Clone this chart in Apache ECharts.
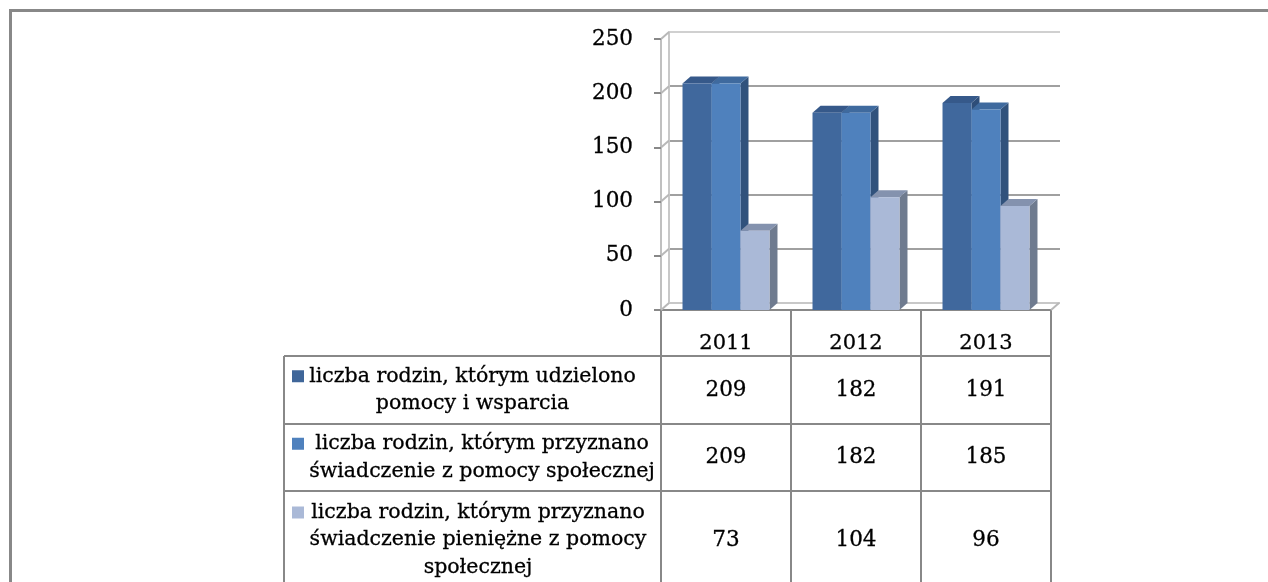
<!DOCTYPE html>
<html><head><meta charset="utf-8">
<script src="https://cdn.jsdelivr.net/npm/echarts@6/dist/echarts.min.js"></script>
<style>html,body{margin:0;padding:0;background:#fff}#c{width:1268px;height:582px}</style>
</head><body><div id="c"></div>
<script>
const categories = ['2011', '2012', '2013'];
const seriesNames = [
  'liczba rodzin, którym udzielono\npomocy i wsparcia',
  'liczba rodzin, którym przyznano\nświadczenie z pomocy społecznej',
  'liczba rodzin, którym przyznano\nświadczenie pieniężne z pomocy\nspołecznej'
];
const udzielonoPomocy = [209, 182, 191];
const przyznanoSwiadczenie = [209, 182, 185];
const przyznanoPieniezne = [73, 104, 96];
const yTicks = [0, 50, 100, 150, 200, 250];

const valuesList = [udzielonoPomocy, przyznanoSwiadczenie, przyznanoPieniezne];
const FONT = 'DejaVu Serif';
const DX = 8, DY = -7;
const faceColors = [
  {front: '#40689D', top: '#36598A', side: '#2E4D78', legend: '#3F6699'},
  {front: '#4F81BD', top: '#3F6A9E', side: '#31527C', legend: '#4F81BD'},
  {front: '#AAB9D7', top: '#8492AE', side: '#6F7B8F', legend: '#AAB9D7'}
];

function barRender(k) {
  return function (params, api) {
    const ci = api.value(0), v = api.value(1);
    const base = api.coord([ci, 0]);
    const top = api.coord([ci, v]);
    const band = api.size([1, 0])[0];
    const bw = band * 0.223;
    const x = base[0] - 1.5 * bw + k * bw;
    const yT = top[1], yB = base[1];
    const c = faceColors[k];
    return {type: 'group', children: [
      {type: 'polygon', shape: {points: [[x + bw, yT], [x + bw + DX, yT + DY], [x + bw + DX, yB + DY], [x + bw, yB]]}, style: {fill: c.side}},
      {type: 'polygon', shape: {points: [[x, yT], [x + bw, yT], [x + bw + DX, yT + DY], [x + DX, yT + DY]]}, style: {fill: c.top}},
      {type: 'rect', shape: {x: x, y: yT, width: bw, height: yB - yT}, style: {fill: c.front}}
    ]};
  };
}

const chart = echarts.init(document.getElementById('c'), null, {renderer: 'canvas'});

const series = valuesList.map((vals, k) => ({
  type: 'custom',
  name: seriesNames[k],
  xAxisIndex: 0, yAxisIndex: 0,
  renderItem: barRender(k),
  encode: {x: 0, y: 1},
  data: categories.map((c, i) => [i, vals[i]]),
  z: 5
}));

// left wall diagonals at each tick
series.push({
  type: 'custom', xAxisIndex: 0, yAxisIndex: 0, silent: true, z: 3,
  encode: {x: 0, y: 1},
  data: yTicks.map(v => [0, v]),
  renderItem: function (params, api) {
    const y = api.coord([0, api.value(1)])[1];
    const x = params.coordSys.x;
    return {type: 'line', shape: {x1: x, y1: y, x2: x + DX, y2: y + DY}, style: {stroke: '#b8b8b8', lineWidth: 2}};
  }
});
// right floor edge
series.push({
  type: 'custom', xAxisIndex: 0, yAxisIndex: 0, silent: true, z: 3,
  encode: {x: 0, y: 1},
  data: [[categories.length - 1, 0]],
  renderItem: function (params, api) {
    const y = api.coord([0, 0])[1];
    const x = params.coordSys.x + params.coordSys.width;
    return {type: 'line', shape: {x1: x, y1: y, x2: x + DX, y2: y + DY}, style: {stroke: '#b8b8b8', lineWidth: 2}};
  }
});

const option = {
  backgroundColor: '#fff',
  animation: false,
  grid: [
    {left: 661, right: 217, top: 39, bottom: 272},
    {left: 669, right: 208, top: 32, bottom: 279}
  ],
  xAxis: [
    {type: 'category', gridIndex: 0, data: categories,
     axisLine: {lineStyle: {color: '#888', width: 2}},
     axisTick: {show: false},
     axisLabel: {margin: 23, fontFamily: FONT, fontSize: 21, color: '#000', textBorderColor: '#000', textBorderWidth: 0.3}},
    {type: 'category', gridIndex: 1, data: categories, show: false}
  ],
  yAxis: [
    {type: 'value', gridIndex: 0, min: 0, max: 250, interval: 50,
     axisLine: {show: true, lineStyle: {color: '#c0c0c0', width: 2}},
     axisTick: {show: true, length: 7, lineStyle: {color: '#888', width: 2}},
     axisLabel: {margin: 28, fontFamily: FONT, fontSize: 21.5, color: '#000', textBorderColor: '#000', textBorderWidth: 0.3},
     splitLine: {show: false}},
    {type: 'value', gridIndex: 1, min: 0, max: 250, interval: 50,
     axisLine: {show: true, lineStyle: {color: '#c8c8c8', width: 2}},
     axisTick: {show: false}, axisLabel: {show: false},
     splitLine: {show: true, lineStyle: {color: ['#c8c8c8', '#a0a0a0', '#a0a0a0', '#a0a0a0', '#a0a0a0', '#d0d0d0'], width: 2}}}
  ],
  series: series
};
chart.setOption(option);

// data table built from the arrays, positioned via the axis scale
const c0 = chart.convertToPixel({xAxisIndex: 0}, categories[0]);
const c1 = chart.convertToPixel({xAxisIndex: 0}, categories[1]);
const band = c1 - c0;
const colEdges = categories.map((_, i) => c0 - band / 2 + i * band);
colEdges.push(colEdges[colEdges.length - 1] + band);
const axisBottom = chart.convertToPixel({yAxisIndex: 0}, 0);
const tableLeft = 284;
const rowTops = [356, 424, 491];
const rowBottoms = [424, 491, 589];
const labelCenters = [472.5, 482, 478];
const lineStyle = {stroke: '#888', lineWidth: 2};
const gfx = [];
const tableRight = colEdges[colEdges.length - 1];
rowTops.concat([589]).forEach(y => gfx.push({type: 'line', silent: true, shape: {x1: tableLeft, y1: y, x2: tableRight, y2: y}, style: lineStyle}));
gfx.push({type: 'line', silent: true, shape: {x1: tableLeft, y1: rowTops[0], x2: tableLeft, y2: 589}, style: lineStyle});
colEdges.forEach(x => gfx.push({type: 'line', silent: true, shape: {x1: x, y1: axisBottom, x2: x, y2: 589}, style: lineStyle}));
valuesList.forEach((vals, k) => {
  const cy = (rowTops[k] + rowBottoms[k]) / 2;
  const nLines = seriesNames[k].split('\n').length;
  const lh = 27.5;
  gfx.push({type: 'text', silent: true, x: labelCenters[k], y: cy,
    style: {text: seriesNames[k], fontFamily: FONT, fontSize: 20.5, fill: '#000', stroke: '#000', lineWidth: 0.3,
            align: 'center', verticalAlign: 'middle', lineHeight: lh}});
  const firstLineY = cy - (nLines - 1) * lh / 2;
  gfx.push({type: 'rect', silent: true, shape: {x: 292, y: firstLineY - 6, width: 12, height: 12}, style: {fill: faceColors[k].legend}});
  vals.forEach((v, i) => {
    gfx.push({type: 'text', silent: true, x: (colEdges[i] + colEdges[i + 1]) / 2, y: cy,
      style: {text: String(v), fontFamily: FONT, fontSize: 21.5, fill: '#000', stroke: '#000', lineWidth: 0.3,
              align: 'center', verticalAlign: 'middle'}});
  });
});
// outer frame
gfx.push({type: 'line', silent: true, shape: {x1: 9, y1: 10.5, x2: 1268, y2: 10.5}, style: {stroke: '#888', lineWidth: 3}});
gfx.push({type: 'line', silent: true, shape: {x1: 10.5, y1: 9, x2: 10.5, y2: 582}, style: {stroke: '#888', lineWidth: 3}});
chart.setOption({graphic: {elements: gfx}});
</script>
</body></html>
